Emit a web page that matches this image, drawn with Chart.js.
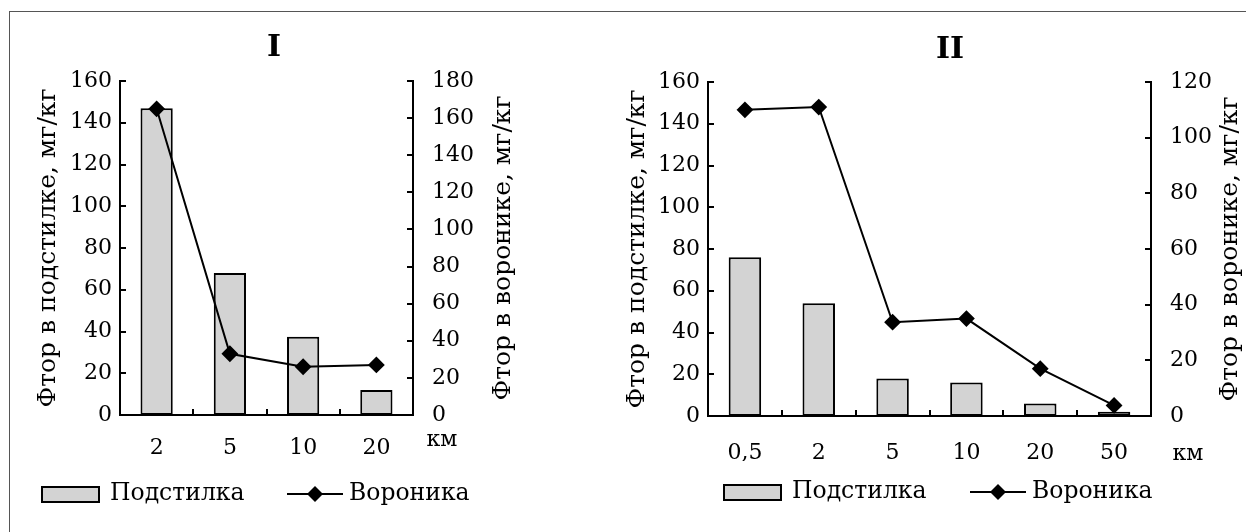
<!DOCTYPE html>
<html>
<head>
<meta charset="utf-8">
<script src="https://cdn.jsdelivr.net/npm/chart.js@4.4.1/dist/chart.umd.min.js"></script>
<style>
  body { margin: 0; background: #fff; }
  #wrap { position: relative; width: 1246px; height: 532px; overflow: hidden; }
  #frame {
    position: absolute; left: 9px; top: 11px; width: 1400px; height: 700px;
    border-top: 1px solid #555; border-left: 1px solid #555;
  }
  canvas { position: absolute; left: 0; top: 0; }
</style>
</head>
<body>
<div id="wrap">
  <div id="frame"></div>
  <canvas id="chart1" width="1246" height="532"></canvas>
  <canvas id="chart2" width="1246" height="532"></canvas>
</div>
<script>
// Panel I
const distI = ["2", "5", "10", "20"];
const litterI = [147, 68, 37.5, 12];
const crowberryI = [165, 33, 26, 27];
const rightMaxI = 180;

// Panel II
const distII = ["0,5", "2", "5", "10", "20", "50"];
const litterII = [76, 54, 18, 16, 6, 2];
const crowberryII = [110, 111, 33.7, 35, 17, 3.8];
const rightMaxII = 120;

const leftMax = 160;
const tickStep = 20;

const seriesNames = ["Подстилка", "Вороника"];
const leftTitle = "Фтор в подстилке, мг/кг";
const rightTitle = "Фтор в воронике, мг/кг";
const unitLabel = "км";

const FONT = "'DejaVu Serif', serif";

// draws inward tick marks, titles, unit and the legend
const panelDecor = {
  id: "panelDecor",
  afterDraw(chart, args, o) {
    const ctx = chart.ctx;
    const area = chart.chartArea;
    const { x, y, y1 } = chart.scales;
    ctx.save();
    ctx.strokeStyle = "#000";
    ctx.fillStyle = "#000";
    ctx.lineWidth = 2;

    ctx.beginPath();
    y.ticks.forEach((t) => {
      const py = Math.round(y.getPixelForValue(t.value));
      ctx.moveTo(area.left, py);
      ctx.lineTo(area.left + 6, py);
    });
    y1.ticks.forEach((t) => {
      const py = Math.round(y1.getPixelForValue(t.value));
      ctx.moveTo(area.right - 6, py);
      ctx.lineTo(area.right, py);
    });
    for (let i = 1; i < x.ticks.length; i++) {
      const px = Math.round((x.getPixelForTick(i - 1) + x.getPixelForTick(i)) / 2);
      ctx.moveTo(px, area.bottom);
      ctx.lineTo(px, area.bottom - 6);
    }
    ctx.stroke();

    // panel title
    ctx.font = "bold 30px " + FONT;
    ctx.textAlign = "center";
    ctx.textBaseline = "alphabetic";
    ctx.fillText(o.title, o.titleX, o.titleY);

    // axis titles, both read bottom to top
    ctx.font = "25px " + FONT;
    ctx.textBaseline = "middle";
    const midY = (area.top + area.bottom) / 2;
    [[leftTitle, o.leftTitleX], [rightTitle, o.rightTitleX]].forEach(([txt, tx]) => {
      ctx.save();
      ctx.translate(tx, midY);
      ctx.rotate(-Math.PI / 2);
      ctx.fillText(txt, 0, 0);
      ctx.restore();
    });

    // unit
    ctx.font = "22px " + FONT;
    ctx.textBaseline = "alphabetic";
    ctx.fillText(unitLabel, o.unitX, o.unitY);

    // legend
    const bars = chart.data.datasets[0];
    const line = chart.data.datasets[1];
    const ly = o.legendY;
    ctx.font = "23.5px " + FONT;
    ctx.textAlign = "left";
    ctx.textBaseline = "middle";
    ctx.fillStyle = bars.backgroundColor;
    ctx.fillRect(o.legendBoxX, ly - 7, 57, 15);
    ctx.strokeRect(o.legendBoxX, ly - 7, 57, 15);
    ctx.fillStyle = "#000";
    ctx.fillText(bars.label, o.legendBoxX + 68, ly);

    ctx.beginPath();
    ctx.moveTo(o.legendLineX, ly);
    ctx.lineTo(o.legendLineX + 56, ly);
    ctx.stroke();
    const cx = o.legendLineX + 28;
    ctx.beginPath();
    ctx.moveTo(cx, ly - 8);
    ctx.lineTo(cx + 8, ly);
    ctx.lineTo(cx, ly + 8);
    ctx.lineTo(cx - 8, ly);
    ctx.closePath();
    ctx.fill();
    ctx.fillText(line.label, o.legendLineX + 62, ly);

    ctx.restore();
  },
};

function makePanel(canvasId, labels, litter, crowberry, rightMax, pad, xPad, decor) {
  const tickFont = { family: FONT, size: 22 };
  return new Chart(document.getElementById(canvasId), {
    data: {
      labels: labels,
      datasets: [
        {
          type: "bar",
          label: seriesNames[0],
          data: litter,
          yAxisID: "y",
          backgroundColor: "#d3d3d3",
          borderColor: "#000",
          borderWidth: 2,
          borderSkipped: false,
          barPercentage: 0.44,
          categoryPercentage: 1,
          order: 1,
        },
        {
          type: "line",
          label: seriesNames[1],
          data: crowberry,
          yAxisID: "y1",
          borderColor: "#000",
          borderWidth: 2,
          tension: 0,
          pointStyle: "rectRot",
          pointRadius: 7,
          pointBackgroundColor: "#000",
          pointBorderColor: "#000",
          order: 0,
        },
      ],
    },
    options: {
      responsive: false,
      animation: false,
      layout: { padding: pad },
      plugins: {
        legend: { display: false },
        tooltip: { enabled: false },
        panelDecor: decor,
      },
      scales: {
        x: {
          offset: true,
          grid: { display: false, drawTicks: false },
          border: { display: true, color: "#000", width: 2 },
          ticks: { color: "#000", font: tickFont, padding: xPad, maxRotation: 0 },
          afterFit: (s) => { s.height = 45; },
        },
        y: {
          position: "left",
          min: 0,
          max: leftMax,
          grid: { display: false, drawTicks: false },
          border: { display: true, color: "#000", width: 2 },
          ticks: { stepSize: tickStep, color: "#000", font: tickFont, padding: 8 },
          afterFit: (s) => { s.width = 60; },
        },
        y1: {
          position: "right",
          min: 0,
          max: rightMax,
          grid: { display: false, drawTicks: false },
          border: { display: true, color: "#000", width: 2 },
          ticks: { stepSize: tickStep, color: "#000", font: tickFont, padding: 19 },
          afterFit: (s) => { s.width = 60; },
        },
      },
    },
    plugins: [panelDecor],
  });
}

makePanel("chart1", distI, litterI, crowberryI, rightMaxI,
  { left: 60, top: 81, right: 773, bottom: 72 }, 20,
  {
    title: "I", titleX: 274, titleY: 56,
    leftTitleX: 48, rightTitleX: 503,
    unitX: 442, unitY: 446,
    legendY: 494, legendBoxX: 42, legendLineX: 287,
  });

makePanel("chart2", distII, litterII, crowberryII, rightMaxII,
  { left: 648, top: 82, right: 35, bottom: 71 }, 24,
  {
    title: "II", titleX: 950, titleY: 58,
    leftTitleX: 637, rightTitleX: 1230,
    unitX: 1188, unitY: 460,
    legendY: 492, legendBoxX: 724, legendLineX: 970,
  });
</script>
</body>
</html>
